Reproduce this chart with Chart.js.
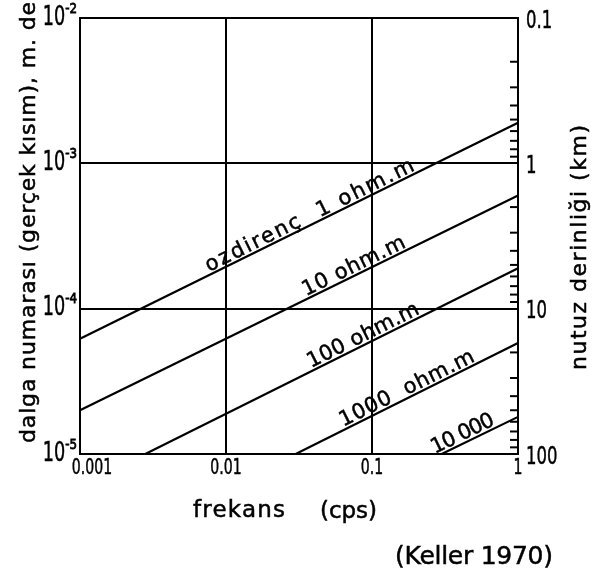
<!DOCTYPE html>
<html><head><meta charset="utf-8">
<script src="https://cdn.jsdelivr.net/npm/chart.js@4"></script>
<style>html,body{margin:0;padding:0;background:#fff}#wrap{width:595px;height:578px}</style>
</head><body><div id="wrap"><canvas id="c" width="595" height="578"></canvas></div>
<script>
// ---- data ----
const xTickValues = [0.001, 0.01, 0.1, 1];
const xTickLabels = ['0.001', '0.01', '0.1', '1'];
const yTickValues = [1e-5, 1e-4, 1e-3, 1e-2];
const yTickExponents = ['-5', '-4', '-3', '-2'];
const depthTickValues = [0.1, 1, 10, 100];
const depthTickLabels = ['0.1', '1', '10', '100'];
const depthMinorMultipliers = [2, 3, 4, 5, 6, 7, 8, 9];

const freq_rho1 = [0.001, 1];
const k_rho1 = [6.2e-5, 1.9e-3];
const freq_rho10 = [0.001, 1];
const k_rho10 = [2.0e-5, 6.0e-4];
const freq_rho100 = [0.0028, 1];
const k_rho100 = [1.0e-5, 1.9e-4];
const freq_rho1000 = [0.03, 1];
const k_rho1000 = [1.0e-5, 5.8e-5];
const freq_rho10000 = [0.3, 1];
const k_rho10000 = [1.0e-5, 1.8e-5];

const lineLabelTexts = ['ozdirenç  1 ohm.m', '10 ohm.m', '100 ohm.m', '1000  ohm.m', '10 000'];
// label extent along each line, as frequencies
const lineLabelFrom = [0.0078, 0.036, 0.039, 0.065, 0.275];
const lineLabelTo = [0.203, 0.177, 0.22, 0.524, 0.72];

const xTitle1 = 'frekans';
const xTitle2 = '(cps)';
const yTitle = 'dalga numarası (gerçek kısım), m. de';
const y2Title = 'nutuz derinliği (km)';
const sourceNote = '(Keller 1970)';

// ---- build ----
const seriesF = [freq_rho1, freq_rho10, freq_rho100, freq_rho1000, freq_rho10000];
const seriesK = [k_rho1, k_rho10, k_rho100, k_rho1000, k_rho10000];
const datasets = seriesF.map((f, i) => ({
  data: f.map((v, j) => ({x: v, y: seriesK[i][j]})),
  showLine: true, borderColor: '#000', borderWidth: 2.2, pointRadius: 0, fill: false, tension: 0
}));

function drawText(ctx, str, x, y, o) {
  ctx.save();
  ctx.translate(x, y);
  if (o.rot) ctx.rotate(o.rot);
  const sx = o.sx || 1;
  ctx.scale(sx, 1);
  ctx.font = o.size + 'px "DejaVu Sans", sans-serif';
  ctx.fillStyle = '#000';
  ctx.strokeStyle = '#000';
  ctx.lineWidth = o.stroke || 0.5;
  ctx.textAlign = 'left';
  ctx.textBaseline = o.baseline || 'middle';
  ctx.letterSpacing = '0px';
  const n = Array.from(str).length;
  const w0 = ctx.measureText(str).width;
  let ls = o.ls || 0;
  if (o.fit) ls = n > 1 ? (o.fit / sx - w0) / (n - 1) : 0;
  const total = (w0 + ls * (n - 1)) * sx;
  let start = 0;
  if (o.align === 'center') start = -total / 2;
  else if (o.align === 'right') start = -total;
  ctx.letterSpacing = ls + 'px';
  ctx.fillText(str, start / sx, 0);
  ctx.strokeText(str, start / sx, 0);
  ctx.restore();
  return total;
}

function kAt(i, f) {
  const F = seriesF[i], K = seriesK[i];
  const t = (Math.log10(f) - Math.log10(F[0])) / (Math.log10(F[1]) - Math.log10(F[0]));
  return Math.pow(10, Math.log10(K[0]) + t * (Math.log10(K[1]) - Math.log10(K[0])));
}

const annotate = {
  id: 'annotate',
  afterDraw(chart) {
    const ctx = chart.ctx;
    const xs = chart.scales.x, ys = chart.scales.y, y2 = chart.scales.y2;
    const area = chart.chartArea;
    // inward minor ticks on the depth axis
    ctx.save();
    ctx.strokeStyle = '#000';
    ctx.lineWidth = 2;
    for (let d = 0; d < depthTickValues.length - 1; d++) {
      depthMinorMultipliers.forEach(m => {
        const py = y2.getPixelForValue(depthTickValues[d] * m);
        ctx.beginPath();
        ctx.moveTo(area.right - 8, py);
        ctx.lineTo(area.right, py);
        ctx.stroke();
      });
    }
    ctx.restore();
    // bottom tick labels
    xTickValues.forEach((v, i) => {
      let px = xs.getPixelForValue(v);
      if (i === 0) px += 12;
      drawText(ctx, xTickLabels[i], px, area.bottom + 15, {size: 21, sx: 0.67, align: 'center'});
    });
    // left tick labels 10^n
    yTickValues.forEach((v, i) => {
      const py = ys.getPixelForValue(v);
      const w = drawText(ctx, yTickExponents[i], area.left - 3, py - 9, {size: 14, sx: 0.85, align: 'right', stroke: 0.8});
      drawText(ctx, '10', area.left - 3 - w, py, {size: 26, sx: 0.68, align: 'right'});
    });
    // right tick labels
    depthTickValues.forEach((v, i) => {
      const py = y2.getPixelForValue(v);
      drawText(ctx, depthTickLabels[i], area.right + 8, py + 3, {size: 25, sx: 0.66, align: 'left'});
    });
    // labels along lines
    lineLabelTexts.forEach((t, i) => {
      const x1 = xs.getPixelForValue(lineLabelFrom[i]), y1 = ys.getPixelForValue(kAt(i, lineLabelFrom[i]));
      const x2 = xs.getPixelForValue(lineLabelTo[i]), yb = ys.getPixelForValue(kAt(i, lineLabelTo[i]));
      const ang = Math.atan2(yb - y1, x2 - x1);
      const L = Math.hypot(x2 - x1, yb - y1);
      ctx.save();
      ctx.translate(x1, y1);
      ctx.rotate(ang);
      drawText(ctx, t, 0, -3, {size: 21, fit: L, baseline: 'alphabetic'});
      ctx.restore();
    });
    // axis titles
    drawText(ctx, xTitle1, 193, 511, {size: 23, fit: 92});
    drawText(ctx, xTitle2, 320, 512, {size: 23, fit: 57});
    drawText(ctx, sourceNote, 395, 557, {size: 25, fit: 158});
    drawText(ctx, yTitle, 35, 443, {size: 22, fit: 441, rot: -Math.PI / 2, baseline: 'alphabetic'});
    drawText(ctx, y2Title, 586, 370, {size: 22, fit: 245, rot: -Math.PI / 2, baseline: 'alphabetic'});
  }
};

const decadeTicks = vals => scale => { scale.ticks = vals.map(v => ({value: v})); };

new Chart(document.getElementById('c'), {
  type: 'scatter',
  data: {datasets},
  options: {
    responsive: false,
    animation: false,
    devicePixelRatio: 1,
    layout: {padding: {top: 18, left: 0, right: 0, bottom: 0}},
    plugins: {legend: {display: false}, tooltip: {enabled: false}},
    scales: {
      x: {
        type: 'logarithmic', position: 'bottom', min: 0.001, max: 1,
        afterBuildTicks: decadeTicks(xTickValues),
        afterFit: s => { s.height = 124; },
        ticks: {display: false},
        grid: {color: '#000', lineWidth: 2, drawTicks: false},
        border: {display: true, color: '#000', width: 2}
      },
      y: {
        type: 'logarithmic', position: 'left', min: 1e-5, max: 1e-2,
        afterBuildTicks: decadeTicks(yTickValues),
        afterFit: s => { s.width = 80; },
        ticks: {display: false},
        grid: {color: '#000', lineWidth: 2, drawTicks: false},
        border: {display: true, color: '#000', width: 2}
      },
      y2: {
        type: 'logarithmic', position: 'right', min: 0.1, max: 100, reverse: true,
        afterBuildTicks: decadeTicks(depthTickValues),
        afterFit: s => { s.width = 77; },
        ticks: {display: false},
        grid: {drawOnChartArea: false, drawTicks: false},
        border: {display: true, color: '#000', width: 2}
      }
    }
  },
  plugins: [annotate]
});
</script>
</body></html>
